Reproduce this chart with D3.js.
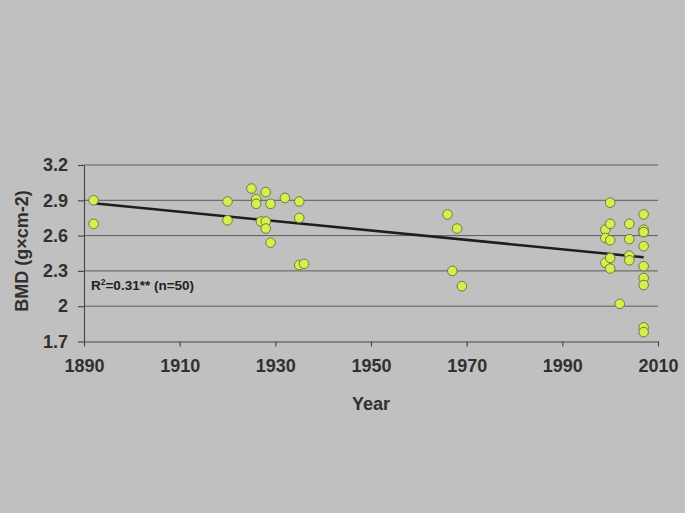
<!DOCTYPE html>
<html>
<head>
<meta charset="utf-8">
<script src="https://cdn.jsdelivr.net/npm/d3@7"></script>
<style>
  body { margin: 0; background: #c0c0c0; }
  svg { display: block; }
  .axis text { font-family: "Liberation Sans", Arial, sans-serif; font-weight: bold; font-size: 18px; fill: #303030; }
</style>
</head>
<body>
<svg id="chart"></svg>
<script>
// data
var years = [1892, 1892,
    1920, 1920, 1925, 1926, 1926, 1927, 1928, 1928, 1928, 1929, 1929, 1932, 1935, 1935, 1935, 1936,
    1966, 1967, 1968, 1969,
    1999, 1999, 1999, 2000, 2000, 2000, 2000, 2000, 2002, 2004, 2004, 2004, 2004,
    2007, 2007, 2007, 2007, 2007, 2007, 2007, 2007, 2007, 2007];
var bmd = [2.90, 2.70,
    2.89, 2.73, 3.00, 2.91, 2.87, 2.72, 2.97, 2.72, 2.66, 2.87, 2.54, 2.92, 2.89, 2.75, 2.35, 2.36,
    2.78, 2.30, 2.66, 2.17,
    2.65, 2.58, 2.37, 2.88, 2.70, 2.56, 2.41, 2.32, 2.02, 2.70, 2.57, 2.43, 2.39,
    2.78, 2.65, 2.63, 2.51, 2.34, 2.24, 2.18, 1.82, 1.78, 2.63];
var trendYears = [1892, 2007];
var trendBmd = [2.875, 2.416];
var xTicks = [1890, 1910, 1930, 1950, 1970, 1990, 2010];
var yTicks = [1.7, 2, 2.3, 2.6, 2.9, 3.2];

var width = 685, height = 513;
var margin = { top: 165, right: 27, bottom: 171.5, left: 84 };

var svg = d3.select("#chart")
    .attr("width", width)
    .attr("height", height);

svg.append("rect")
    .attr("width", width)
    .attr("height", height)
    .attr("fill", "#c0c0c0");

var x = d3.scaleLinear()
    .domain([1890, 2010])
    .range([margin.left, width - margin.right]);

var y = d3.scaleLinear()
    .domain([1.7, 3.2])
    .range([height - margin.bottom, margin.top]);

// gridlines
svg.append("g")
    .selectAll("line")
    .data(yTicks.slice(1))
    .enter()
    .append("line")
    .attr("x1", x(1890))
    .attr("x2", x(2010))
    .attr("y1", d => y(d))
    .attr("y2", d => y(d))
    .attr("stroke", "#5c5c5c")
    .attr("stroke-width", 1);

var xAxis = d3.axisBottom(x)
    .tickValues(xTicks)
    .tickFormat(d3.format("d"))
    .tickSize(5)
    .tickSizeOuter(0)
    .tickPadding(13);

var yAxis = d3.axisLeft(y)
    .tickValues(yTicks)
    .tickFormat(d => String(d))
    .tickSize(6)
    .tickSizeOuter(0)
    .tickPadding(10);

svg.append("g")
    .attr("class", "axis")
    .attr("transform", "translate(0," + y(1.7) + ")")
    .call(xAxis);

svg.append("g")
    .attr("class", "axis")
    .attr("transform", "translate(" + x(1890) + ",0)")
    .call(yAxis);

svg.selectAll(".axis path, .axis line")
    .attr("stroke", "#4a4a4a")
    .attr("stroke-width", 1.2);

// trend line
var line = d3.line()
    .x((d, i) => x(trendYears[i]))
    .y(d => y(d));

svg.append("path")
    .datum(trendBmd)
    .attr("d", line)
    .attr("fill", "none")
    .attr("stroke", "#1e1e1e")
    .attr("stroke-width", 2.5);

// points
svg.append("g")
    .selectAll("circle")
    .data(bmd)
    .enter()
    .append("circle")
    .attr("cx", (d, i) => x(years[i]))
    .attr("cy", d => y(d))
    .attr("r", 4.8)
    .attr("fill", "#d2f050")
    .attr("stroke", "#6b7d35")
    .attr("stroke-width", 1);

// R2 note
var note = svg.append("text")
    .attr("x", x(1890) + 7)
    .attr("y", 290)
    .attr("font-family", "Liberation Sans, Arial, sans-serif")
    .attr("font-weight", "bold")
    .attr("font-size", "13.5px")
    .attr("fill", "#222");
note.append("tspan").text("R");
note.append("tspan").attr("dy", -5).attr("font-size", "8.5px").text("2");
note.append("tspan").attr("dy", 5).text("=0.31** (n=50)");

// axis titles
svg.append("text")
    .attr("x", (x(1890) + x(2010)) / 2)
    .attr("y", 410)
    .attr("text-anchor", "middle")
    .attr("font-family", "Liberation Sans, Arial, sans-serif")
    .attr("font-weight", "bold")
    .attr("font-size", "18px")
    .attr("fill", "#303030")
    .text("Year");

svg.append("text")
    .attr("transform", "translate(28," + 251 + ") rotate(-90)")
    .attr("text-anchor", "middle")
    .attr("font-family", "Liberation Sans, Arial, sans-serif")
    .attr("font-weight", "bold")
    .attr("font-size", "18px")
    .attr("fill", "#303030")
    .text("BMD (g×cm-2)");
</script>
</body>
</html>
